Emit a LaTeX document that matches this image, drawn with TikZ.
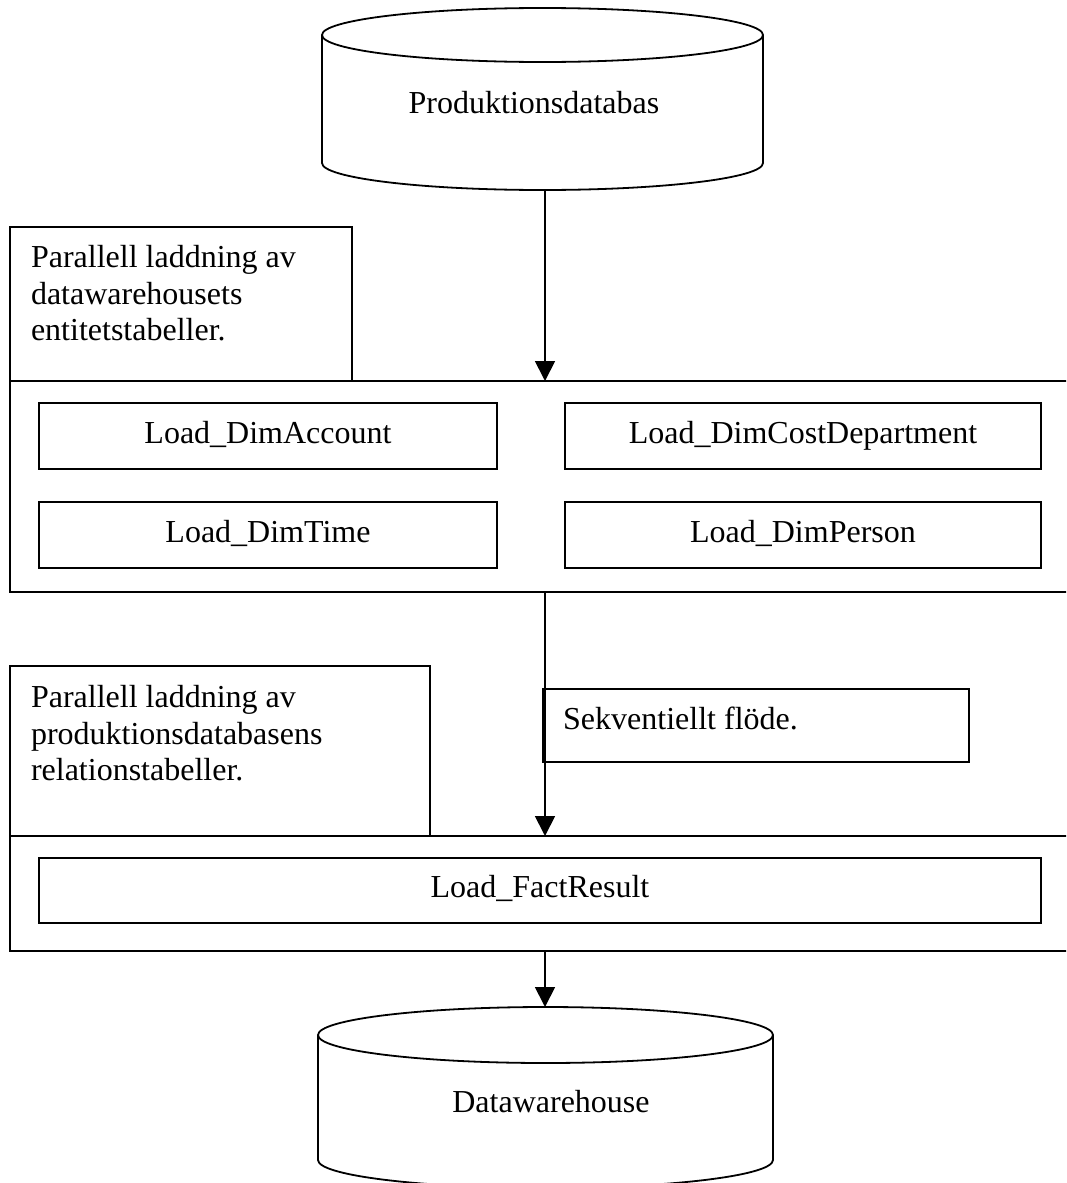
\documentclass[tikz,border=0pt]{standalone}
\usepackage{fontspec}
\setmainfont{Liberation Serif}
\usetikzlibrary{arrows.meta}
\tikzset{
  ln/.style={line width=1.8pt, line join=miter},
  box/.style={draw, ln, rectangle, inner sep=0pt, outer sep=0pt, anchor=north west},
  loadbox/.style={box, text height=22pt, text depth=8pt, font=\fontsize{32pt}{36.7pt}\selectfont},
  lbltext/.style={inner sep=0pt, outer sep=0pt, anchor=north west, align=left, font=\fontsize{32pt}{36.7pt}\selectfont},
  dbtext/.style={inner sep=0pt, anchor=base, font=\fontsize{32pt}{36.7pt}\selectfont},
  arr/.style={ln, -{Triangle[length=20pt,width=20pt]}}
}
\begin{document}
\begin{tikzpicture}[x=1pt,y=-1pt]
\useasboundingbox (0,0) rectangle (1066,1183);
\clip (0,0) rectangle (1066,1183);

% top cylinder (Produktionsdatabas)
\draw[ln] (322,35) .. controls (322,20.09) and (420.7,8) .. (542.5,8)
  .. controls (664.3,8) and (763,20.09) .. (763,35)
  .. controls (763,49.91) and (664.3,62) .. (542.5,62)
  .. controls (420.7,62) and (322,49.91) .. (322,35) -- cycle;
\draw[ln] (322,35) -- (322,163) .. controls (322,177.91) and (420.7,190) .. (542.5,190)
  .. controls (664.3,190) and (763,177.91) .. (763,163) -- (763,35);
\node[dbtext] (db1) at (534,113) {Produktionsdatabas};
\coordinate (db1bot) at (545,190);

% first label box and container
\node[box, minimum width=342pt, minimum height=154pt] (lbl1box) at (10,227) {};
\node[lbltext] (lbl1) at (31,245.3) {Parallell laddning av\\datawarehousets\\entitetstabeller.};
\node[box, minimum width=1100pt, minimum height=211pt] (cont1) at (10,381) {};
\node[loadbox, minimum width=458pt, minimum height=66pt] (acc) at (39,403) {Load\_DimAccount};
\node[loadbox, minimum width=476pt, minimum height=66pt] (cost) at (565,403) {Load\_DimCostDepartment};
\node[loadbox, minimum width=458pt, minimum height=66pt] (time) at (39,502) {Load\_DimTime};
\node[loadbox, minimum width=476pt, minimum height=66pt] (person) at (565,502) {Load\_DimPerson};

% second label box and container
\node[box, minimum width=420pt, minimum height=170pt] (lbl2box) at (10,666) {};
\node[lbltext] (lbl2) at (31,685.3) {Parallell laddning av\\produktionsdatabasens\\relationstabeller.};
\node[box, minimum width=426pt, minimum height=73pt] (seqbox) at (543,689) {};
\node[dbtext, anchor=base west] (seq) at (563,729) {Sekventiellt flöde.};
\node[box, minimum width=1100pt, minimum height=115pt] (cont2) at (10,836) {};
\node[loadbox, minimum width=1002pt, minimum height=65pt] (fact) at (39,858) {Load\_FactResult};

% bottom cylinder (Datawarehouse)
\draw[ln] (318,1035) .. controls (318,1019.54) and (419.9,1007) .. (545.5,1007)
  .. controls (671.1,1007) and (773,1019.54) .. (773,1035)
  .. controls (773,1050.46) and (671.1,1063) .. (545.5,1063)
  .. controls (419.9,1063) and (318,1050.46) .. (318,1035) -- cycle;
\draw[ln] (318,1035) -- (318,1160) .. controls (318,1175.46) and (419.9,1188) .. (545.5,1188)
  .. controls (671.1,1188) and (773,1175.46) .. (773,1160) -- (773,1035);
\node[dbtext] (db2) at (551,1112) {Datawarehouse};
\coordinate (db2top) at (545,1007);

% connectors
\draw[arr] (db1bot) -- (db1bot |- cont1.north);
\draw[arr] (db1bot |- cont1.south) -- (db1bot |- cont2.north);
\draw[arr] (db1bot |- cont2.south) -- (db2top);
\end{tikzpicture}
\end{document}
